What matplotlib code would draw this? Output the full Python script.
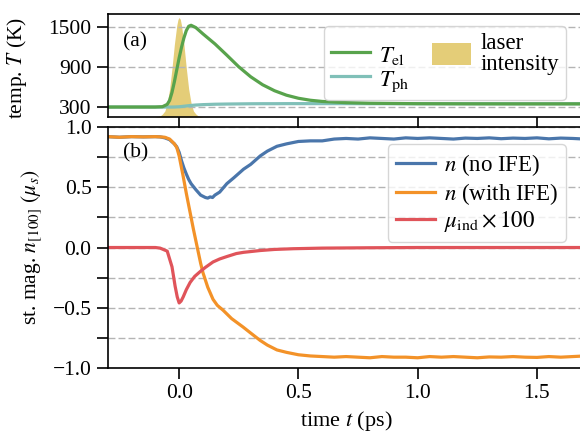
import matplotlib.pyplot as plt
from matplotlib.lines import Line2D
from matplotlib.patches import Patch
from matplotlib.ticker import MultipleLocator

# ---- dados ----
# painel (a): temperaturas
t_temp = [-0.3, -0.1, -0.07, -0.05, -0.04, -0.03, -0.02, -0.01, 0.0, 0.01, 0.02,
          0.03, 0.04, 0.05, 0.07, 0.1, 0.15, 0.2, 0.25, 0.3, 0.35, 0.4, 0.45,
          0.5, 0.55, 0.6, 0.7, 0.8, 1.0, 1.2, 1.4, 1.7]
T_el = [300, 300, 305, 340, 400, 520, 680, 860, 1040, 1200, 1340,
        1450, 1515, 1530, 1495, 1400, 1250, 1080, 905, 755, 635, 545, 478,
        432, 402, 384, 366, 357, 350, 348, 347, 347]
T_ph = [300, 300, 300, 300, 300, 300, 301, 302, 304, 308, 312,
        316, 320, 324, 330, 336, 342, 345, 347, 349, 350, 350, 351,
        351, 351, 351, 351, 350, 350, 350, 350, 350]

# intensidade do laser (normalizada)
t_laser = [-0.1, -0.08, -0.07, -0.06, -0.05, -0.04, -0.03, -0.02, -0.01, -0.005,
           0.0, 0.005, 0.01, 0.02, 0.03, 0.04, 0.05, 0.06, 0.07, 0.08, 0.1]
I_laser = [0.0, 0.01, 0.03, 0.06, 0.14, 0.28, 0.49, 0.73, 0.92, 0.98,
           1.0, 0.98, 0.92, 0.73, 0.49, 0.28, 0.14, 0.06, 0.03, 0.01, 0.0]

# painel (b): magnetizacao
t_n = [-0.3, -0.25, -0.2, -0.15, -0.1, -0.08, -0.06, -0.04, -0.02, -0.01, 0.0,
       0.01, 0.02, 0.03, 0.04, 0.05, 0.07, 0.09, 0.1, 0.11, 0.12, 0.13, 0.14,
       0.15, 0.17, 0.2, 0.23, 0.27, 0.3, 0.34, 0.37, 0.41, 0.45, 0.5, 0.55,
       0.6, 0.65, 0.7, 0.75, 0.8, 0.85, 0.9, 0.95, 1.0, 1.05, 1.1, 1.15, 1.2,
       1.25, 1.3, 1.35, 1.4, 1.45, 1.5, 1.55, 1.6, 1.65, 1.7]
n_sem = [0.92, 0.915, 0.92, 0.918, 0.92, 0.918, 0.91, 0.895, 0.86, 0.835, 0.79,
         0.72, 0.66, 0.61, 0.565, 0.53, 0.48, 0.435, 0.425, 0.415, 0.41, 0.42, 0.415,
         0.435, 0.46, 0.53, 0.58, 0.65, 0.69, 0.76, 0.8, 0.84, 0.86, 0.88, 0.885,
         0.885, 0.9, 0.905, 0.9, 0.91, 0.905, 0.9, 0.91, 0.905, 0.91, 0.905, 0.9, 0.908,
         0.905, 0.91, 0.903, 0.908, 0.905, 0.91, 0.902, 0.908, 0.905, 0.9]

t_ife = [-0.3, -0.25, -0.2, -0.15, -0.1, -0.08, -0.06, -0.04, -0.02, -0.01, 0.0,
         0.017, 0.03, 0.046, 0.06, 0.075, 0.09, 0.1, 0.12, 0.142, 0.16, 0.184,
         0.22, 0.268, 0.3, 0.339, 0.37, 0.41, 0.45, 0.5, 0.55, 0.6, 0.65, 0.7,
         0.75, 0.8, 0.85, 0.9, 0.95, 1.0, 1.05, 1.1, 1.15, 1.2, 1.25, 1.3, 1.35,
         1.4, 1.45, 1.5, 1.55, 1.6, 1.65, 1.7]
n_com = [0.92, 0.915, 0.92, 0.918, 0.92, 0.918, 0.915, 0.9, 0.86, 0.83, 0.76,
         0.59, 0.45, 0.29, 0.15, 0.01, -0.13, -0.21, -0.33, -0.43, -0.48, -0.52,
         -0.59, -0.66, -0.71, -0.77, -0.81, -0.85, -0.87, -0.89, -0.9, -0.905, -0.91, -0.905,
         -0.91, -0.915, -0.905, -0.91, -0.91, -0.915, -0.905, -0.91, -0.905, -0.91, -0.915, -0.908, -0.91,
         -0.905, -0.91, -0.912, -0.905, -0.91, -0.905, -0.9]

t_mu = [-0.3, -0.1, -0.08, -0.05, -0.03, -0.017, -0.008, 0.0, 0.008, 0.017, 0.03,
        0.046, 0.065, 0.088, 0.11, 0.142, 0.17, 0.2, 0.24, 0.27, 0.34, 0.4, 0.48,
        0.6, 0.8, 1.0, 1.7]
mu_ind = [0.0, 0.0, -0.005, -0.03, -0.16, -0.32, -0.41, -0.46, -0.445, -0.41, -0.35,
          -0.29, -0.24, -0.2, -0.165, -0.12, -0.095, -0.075, -0.05, -0.04, -0.025, -0.016, -0.01,
          -0.005, -0.002, 0.0, 0.0]

# ---- estilo ----
plt.rcParams['font.family'] = 'serif'
plt.rcParams['font.serif'] = ['Liberation Serif', 'DejaVu Serif']
plt.rcParams['mathtext.fontset'] = 'stix'
plt.rcParams['font.size'] = 15.5
plt.rcParams['legend.fontsize'] = 16.5
plt.rcParams['axes.linewidth'] = 1.2

verde = '#58a34c'
turquesa = '#80c0b8'
dourado = '#e4cd78'
azul = '#4a76ab'
laranja = '#f39228'
vermelho = '#e0545a'

fig = plt.figure(figsize=(5.8, 4.41), dpi=100)
ax1 = fig.add_axes([0.1855, 0.7347, 0.8225, 0.2336])
ax2 = fig.add_axes([0.1855, 0.1655, 0.8225, 0.5465])

grade = dict(color='#b4b4b4', linestyle=(0, (5, 2.2)), linewidth=1.0)

# painel (a)
axl = ax1.twinx()
axl.fill_between(t_laser, 0, I_laser, color=dourado, lw=0)
axl.set_ylim(0, 1.035)
axl.axis('off')
ax1.set_zorder(axl.get_zorder() + 1)
ax1.patch.set_visible(False)

ax1.plot(t_temp, T_ph, color=turquesa, lw=2.3)
ax1.plot(t_temp, T_el, color=verde, lw=2.3)
ax1.set_xlim(-0.3, 1.7)
ax1.set_ylim(150, 1700)
ax1.set_yticks([300, 900, 1500])
ax1.xaxis.set_major_locator(MultipleLocator(0.5))
ax1.tick_params(labelbottom=False, direction='out', length=8, width=1.2)
ax1.yaxis.grid(True, **grade)
ax1.set_axisbelow(True)
ax1.text(0.032, 0.73, '(a)', transform=ax1.transAxes, va='center')
ax1.set_ylabel('temp. $T$ (K)')
ax1.yaxis.set_label_coords(0.05, 0.845, transform=fig.transFigure)

handles = [Line2D([], [], color=verde, lw=2.3),
           Line2D([], [], color=turquesa, lw=2.3),
           Patch(facecolor=dourado, lw=0)]
labels = [r'$T_{\rm el}$', r'$T_{\rm ph}$', 'laser\nintensity']
leg1 = ax1.legend(handles, labels, ncol=2, loc='upper right', handlelength=1.7,
                  handleheight=1.1, handletextpad=0.4, columnspacing=1.0,
                  labelspacing=0.0, borderpad=0.3, bbox_to_anchor=(0.985, 0.995))
leg1.get_texts()[2].set_linespacing(1.0)

# painel (b)
ax2.plot(t_n, n_sem, color=azul, lw=2.3, label=r'$n$ (no IFE)')
ax2.plot(t_ife, n_com, color=laranja, lw=2.3, label=r'$n$ (with IFE)')
ax2.plot(t_mu, mu_ind, color=vermelho, lw=2.3, label=r'$\mu_{\rm ind}\times100$')
ax2.set_xlim(-0.3, 1.7)
ax2.set_ylim(-1.0, 1.0)
ax2.yaxis.set_major_locator(MultipleLocator(0.5))
ax2.yaxis.set_minor_locator(MultipleLocator(0.25))
ax2.xaxis.set_major_locator(MultipleLocator(0.5))
ax2.tick_params(which='both', direction='out', length=8, width=1.2)
ax2.yaxis.grid(True, which='both', **grade)
ax2.set_axisbelow(True)
ax2.text(0.032, 0.892, '(b)', transform=ax2.transAxes, va='center')
ax2.set_ylabel(r'st. mag. $n_{[100]}$ $(\mu_s)$')
ax2.yaxis.set_label_coords(0.075, 0.44, transform=fig.transFigure)
ax2.set_xlabel('time $t$ (ps)', fontsize=16)

ax2.legend(loc='upper right', handlelength=1.7, handletextpad=0.4,
           labelspacing=0.1, borderpad=0.35, bbox_to_anchor=(0.985, 0.975))

plt.savefig('out.png', dpi=100)
